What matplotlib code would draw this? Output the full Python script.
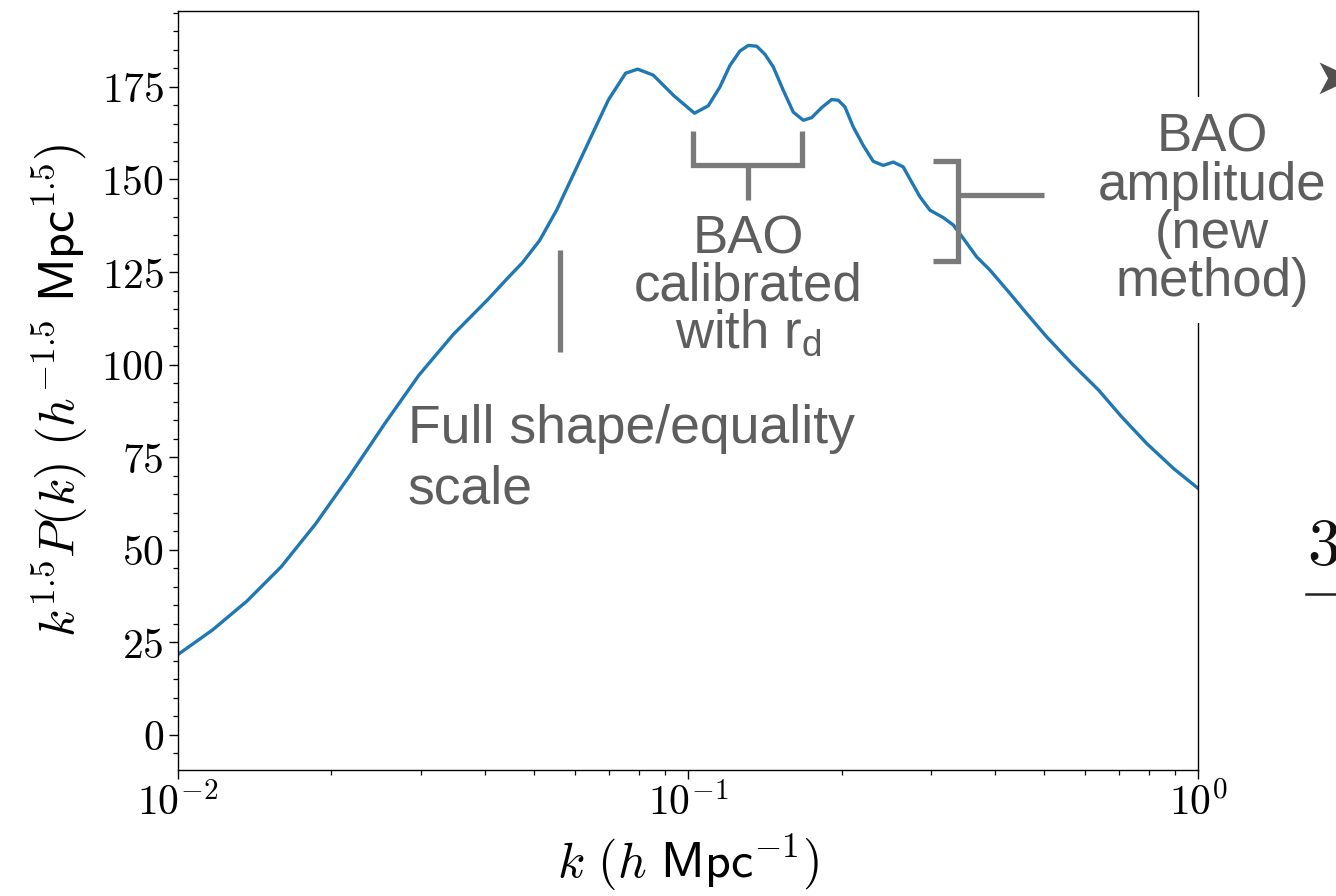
import numpy as np
import matplotlib
matplotlib.use("Agg")
import matplotlib.pyplot as plt
from matplotlib.ticker import MultipleLocator, NullFormatter

plt.rcParams['mathtext.fontset'] = 'cm'
plt.rcParams['mathtext.rm'] = 'Liberation Sans'
plt.rcParams['font.family'] = 'Liberation Sans'

# curve: k [h/Mpc], k^1.5 P(k)
k_vals = [0.0100, 0.011681, 0.013647, 0.015938, 0.018621, 0.021763, 0.025421,
          0.029697, 0.034690, 0.040521, 0.044469, 0.047340, 0.051168, 0.055302,
          0.059772, 0.064595, 0.069823, 0.075458, 0.079682, 0.085457, 0.093872,
          0.10298, 0.10557, 0.10959, 0.11553, 0.12086, 0.12644, 0.13127, 0.13636,
          0.14157, 0.14697, 0.15376, 0.16086, 0.16829, 0.17479, 0.18286, 0.19129,
          0.19708, 0.20313, 0.21089, 0.22062, 0.23079, 0.24145, 0.25260, 0.26426,
          0.27450, 0.28506, 0.29818, 0.31666, 0.33128, 0.34656, 0.36815, 0.39113,
          0.428, 0.46139, 0.50502, 0.56560, 0.63859, 0.70839, 0.79327, 0.89446, 1.0]
pk_vals = [21.7, 28.3, 36.1, 45.4, 57.0, 70.2, 84.0,
           97.2, 108.2, 117.6, 123.6, 127.5, 133.5, 141.8,
           151.7, 161.6, 171.5, 178.7, 179.8, 178.2, 172.6,
           167.9, 168.7, 169.9, 175.0, 180.8, 184.7, 186.2, 186.0,
           183.8, 180.4, 174.1, 168.2, 166.0, 166.7, 169.4, 171.6,
           171.4, 169.6, 164.2, 159.2, 154.9, 153.8, 154.7, 153.4,
           149.3, 145.3, 141.7, 139.7, 137.7, 134.1, 129.1, 125.5,
           119.2, 113.8, 107.5, 100.3, 93.1, 85.9, 78.7, 72.0, 66.6]

y_major = [0, 25, 50, 75, 100, 125, 150, 175]
x_major = [1e-2, 1e-1, 1e0]
x_labels = [r'$10^{-2}$', r'$10^{-1}$', r'$10^{0}$']

gline = '#7a7a7a'
gtext = '#5e5e5e'

fig = plt.figure(figsize=(13.36, 8.96), dpi=100)
ax = fig.add_axes([0.1332, 0.1406, 0.7635, 0.8471])

ax.plot(k_vals, pk_vals, color='#1f77b4', lw=2.4, zorder=2)

ax.set_xscale('log')
ax.set_xlim(1e-2, 1e0)
ax.set_ylim(-9.5, 195.5)
ax.set_xticks(x_major)
ax.set_xticklabels(x_labels)
ax.xaxis.set_minor_formatter(NullFormatter())
ax.set_yticks(y_major)
ax.set_yticklabels([r'$%d$' % v for v in y_major])
ax.yaxis.set_minor_locator(MultipleLocator(5))

ax.tick_params(which='major', length=6.5, width=1.0, labelsize=30)
ax.tick_params(which='minor', length=3.6, width=0.9)
for sp in ax.spines.values():
    sp.set_linewidth(1.0)

ax.set_xlabel(r'$k\ (h\ \mathsf{Mpc}^{-1})$', fontsize=36, labelpad=6)
ax.set_ylabel(r'$k^{1.5}P(k)\ (h^{-1.5}\ \mathsf{Mpc}^{1.5})$', fontsize=36, labelpad=8)

lkw = dict(color=gline, lw=3.8, solid_joinstyle='miter', solid_capstyle='butt',
           clip_on=False, zorder=4)

# full shape marker
ax.plot([0.0561, 0.0561], [103.4, 130.9], **lkw)
ax.text(0.02825, 89.3, 'Full shape/equality\nscale', ha='left', va='top',
        fontsize=38.5, color=gtext, linespacing=1.27)

# BAO calibrated bracket
ax.plot([0.1023, 0.1023, 0.1673, 0.1673], [163.0, 153.8, 153.8, 163.0], **lkw)
ax.plot([0.1311, 0.1311], [153.8, 144.4], **lkw)
ax.text(0.1311, 140.6, 'BAO\ncalibrated\nwith r$_\\mathrm{d}$', ha='center', va='top',
        fontsize=38, color=gtext, linespacing=0.92, math_fontfamily='custom')

# BAO amplitude bracket
ax.plot([0.3022, 0.3384, 0.3384, 0.3022], [154.9, 154.9, 127.9, 127.9], **lkw)
ax.plot([0.3384, 0.4989], [145.7, 145.7], **lkw)
ax.text(1.065, 168.0, 'BAO\namplitude\n(new\nmethod)', ha='center', va='top',
        fontsize=38, color=gtext, linespacing=0.95, clip_on=False, zorder=5,
        bbox=dict(boxstyle='square,pad=0.3', facecolor='white', edgecolor='none'))

# pieces of the neighbouring panel cut by the crop
fig.text(1313 / 1336, 1 - 80 / 896, '\u27a4', ha='left', va='center',
         fontsize=36, color='#505050', family='DejaVu Sans')
fig.text(1307 / 1336, 1 - 565 / 896, r'$\mathbf{3}$', ha='left', va='baseline',
         fontsize=48, color='#111111')
fig.add_artist(plt.Line2D([1306 / 1336, 1.0], [1 - 594 / 896, 1 - 594 / 896],
                          color='#222222', lw=1.8, transform=fig.transFigure))

fig.savefig('out.png', dpi=100)
